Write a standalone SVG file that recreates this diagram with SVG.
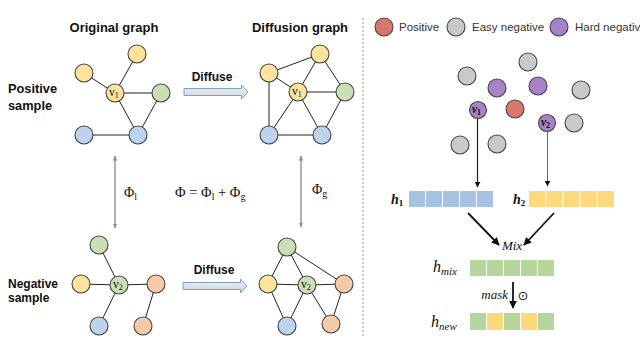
<svg xmlns="http://www.w3.org/2000/svg" width="640" height="351" viewBox="0 0 640 351">
<defs>
<style>
.t{font-family:"Liberation Sans",Arial,sans-serif;font-weight:bold;fill:#111}
.lg{font-family:"Liberation Sans",Arial,sans-serif;font-size:11.5px;fill:#333}
.m{font-family:"Liberation Serif","Times New Roman",serif;fill:#111}
.e{stroke:#222;stroke-width:1;fill:none}
.n{stroke:#444;stroke-width:1.1}
.y{fill:#fde39d}.g{fill:#cadfb6}.b{fill:#bcd3eb}.o{fill:#f6c9a8}
.red{fill:#d9776f}.gr{fill:#c9c9c9}.pu{fill:#a683c7}
.cb{fill:#a6c3e4}.cy{fill:#fbd97c}.cg{fill:#b6d59d}
.da{fill:url(#dg);stroke:#7f9fc0;stroke-width:1}
.va{stroke:#888;stroke-width:1.3;fill:none}
.nl{font-family:"Liberation Serif","Times New Roman",serif;font-size:11.5px;fill:#111}
</style>
<linearGradient id="dg" x1="0" y1="0" x2="0" y2="1">
<stop offset="0" stop-color="#eef1f5"/><stop offset="1" stop-color="#cdd5de"/>
</linearGradient>
<marker id="ah" viewBox="0 0 10 10" refX="9" refY="5" markerWidth="6" markerHeight="6" orient="auto-start-reverse" markerUnits="userSpaceOnUse">
<path d="M0,0L10,5L0,10z" fill="#111"/>
</marker>
<marker id="ahs" viewBox="0 0 10 10" refX="9" refY="5" markerWidth="5" markerHeight="5" orient="auto-start-reverse" markerUnits="userSpaceOnUse">
<path d="M0,1L10,5L0,9z" fill="#888"/>
</marker>
<marker id="ahb" viewBox="0 0 10 10" refX="9" refY="5" markerWidth="8" markerHeight="8" orient="auto" markerUnits="userSpaceOnUse">
<path d="M0,0L10,5L0,10z" fill="#111"/>
</marker>
</defs>
<rect width="640" height="351" fill="#fff"/>

<g id="labels">
<text class="t" x="114" y="32" font-size="13" text-anchor="middle">Original graph</text>
<text class="t" x="300" y="32" font-size="13" text-anchor="middle">Diffusion graph</text>
<text class="t" x="8" y="93" font-size="12.8">Positive</text>
<text class="t" x="8" y="110" font-size="12.8">sample</text>
<text class="t" x="8" y="288" font-size="12">Negative</text>
<text class="t" x="8" y="302" font-size="12">sample</text>
<text class="t" x="212" y="81" font-size="12" text-anchor="middle">Diffuse</text>
<text class="t" x="214" y="274" font-size="12" text-anchor="middle">Diffuse</text>
<text class="m" x="124" y="197" font-size="14">Φ<tspan font-size="10" dy="3">l</tspan></text>
<text class="m" x="175" y="197" font-size="14.5">Φ = Φ<tspan font-size="10" dy="3">l</tspan><tspan dy="-3"> + Φ</tspan><tspan font-size="10" dy="3">g</tspan></text>
<text class="m" x="312" y="194" font-size="14">Φ<tspan font-size="10" dy="3">g</tspan></text>
</g>

<line x1="363" y1="18" x2="363" y2="337" stroke="#999" stroke-width="1" stroke-dasharray="2,2"/>

<g id="connectors">
<path class="da" d="M184,88.5H241.5V85L248,92L241.5,99V95.5H184Z"/>
<path class="da" d="M183,282.5H240.5V279L247,286L240.5,293V289.5H183Z"/>
<line class="va" x1="115" y1="156" x2="115" y2="228" marker-start="url(#ahs)" marker-end="url(#ahs)"/>
<line class="va" x1="301" y1="156" x2="301" y2="227" marker-start="url(#ahs)" marker-end="url(#ahs)"/>
<line class="e" x1="137" y1="54" x2="115" y2="93"/>
<line class="e" x1="84" y1="73" x2="115" y2="93"/>
<line class="e" x1="115" y1="93" x2="161" y2="93"/>
<line class="e" x1="115" y1="93" x2="138" y2="135"/>
<line class="e" x1="161" y1="93" x2="138" y2="135"/>
<line class="e" x1="84" y1="135" x2="138" y2="135"/>
<line class="e" x1="269" y1="73" x2="320" y2="54"/>
<line class="e" x1="269" y1="73" x2="298" y2="92"/>
<line class="e" x1="320" y1="54" x2="298" y2="92"/>
<line class="e" x1="320" y1="54" x2="345" y2="92"/>
<line class="e" x1="298" y1="92" x2="345" y2="92"/>
<line class="e" x1="269" y1="73" x2="269" y2="135"/>
<line class="e" x1="298" y1="92" x2="269" y2="135"/>
<line class="e" x1="298" y1="92" x2="322" y2="135"/>
<line class="e" x1="345" y1="92" x2="322" y2="135"/>
<line class="e" x1="269" y1="135" x2="322" y2="135"/>
<line class="e" x1="99" y1="245" x2="119" y2="285"/>
<line class="e" x1="81" y1="284" x2="119" y2="285"/>
<line class="e" x1="119" y1="285" x2="156" y2="284"/>
<line class="e" x1="119" y1="285" x2="99" y2="326"/>
<line class="e" x1="156" y1="284" x2="143" y2="326"/>
<line class="e" x1="287" y1="247" x2="268" y2="284"/>
<line class="e" x1="287" y1="247" x2="307" y2="285"/>
<line class="e" x1="287" y1="247" x2="344" y2="284"/>
<line class="e" x1="268" y1="284" x2="307" y2="285"/>
<line class="e" x1="307" y1="285" x2="344" y2="284"/>
<line class="e" x1="268" y1="284" x2="287" y2="326"/>
<line class="e" x1="307" y1="285" x2="287" y2="326"/>
<line class="e" x1="307" y1="285" x2="331" y2="324"/>
<line class="e" x1="344" y1="284" x2="331" y2="324"/>
<line x1="477.5" y1="119" x2="477.5" y2="187" stroke="#222" stroke-width="1.2" marker-end="url(#ah)"/>
<line x1="547.5" y1="132" x2="547.5" y2="186" stroke="#555" stroke-width="0.9" marker-end="url(#ah)"/>
<line x1="468" y1="213" x2="499" y2="245" stroke="#111" stroke-width="1.8" marker-end="url(#ahb)"/>
<line x1="554" y1="213" x2="524" y2="245" stroke="#111" stroke-width="1.8" marker-end="url(#ahb)"/>
<line x1="513" y1="282" x2="513" y2="308" stroke="#111" stroke-width="1.8" marker-end="url(#ahb)"/>
</g>

<g id="po-a"><circle class="n y" cx="137" cy="54" r="9"/></g>
<g id="po-b"><circle class="n y" cx="84" cy="73" r="9"/></g>
<g id="po-v1"><circle class="n y" cx="115" cy="93" r="9"/><text class="nl" x="109" y="96">v<tspan font-size="8" dy="2">1</tspan></text></g>
<g id="po-g"><circle class="n g" cx="161" cy="93" r="9"/></g>
<g id="po-c"><circle class="n b" cx="84" cy="135" r="9"/></g>
<g id="po-d"><circle class="n b" cx="138" cy="135" r="9"/></g>

<g id="pd-a"><circle class="n y" cx="320" cy="54" r="9"/></g>
<g id="pd-b"><circle class="n y" cx="269" cy="73" r="9"/></g>
<g id="pd-v1"><circle class="n y" cx="298" cy="92" r="9"/><text class="nl" x="292" y="95">v<tspan font-size="8" dy="2">1</tspan></text></g>
<g id="pd-g"><circle class="n g" cx="345" cy="92" r="9"/></g>
<g id="pd-c"><circle class="n b" cx="269" cy="135" r="9"/></g>
<g id="pd-d"><circle class="n b" cx="322" cy="135" r="9"/></g>

<g id="no-g"><circle class="n g" cx="99" cy="245" r="9"/></g>
<g id="no-y"><circle class="n y" cx="81" cy="284" r="9"/></g>
<g id="no-v2"><circle class="n g" cx="119" cy="285" r="9"/><text class="nl" x="113" y="288">v<tspan font-size="8" dy="2">2</tspan></text></g>
<g id="no-o1"><circle class="n o" cx="156" cy="284" r="9"/></g>
<g id="no-b"><circle class="n b" cx="99" cy="326" r="9"/></g>
<g id="no-o2"><circle class="n o" cx="143" cy="326" r="9"/></g>

<g id="nd-g"><circle class="n g" cx="287" cy="247" r="9"/></g>
<g id="nd-y"><circle class="n y" cx="268" cy="284" r="9"/></g>
<g id="nd-v2"><circle class="n g" cx="307" cy="285" r="9"/><text class="nl" x="301" y="288">v<tspan font-size="8" dy="2">2</tspan></text></g>
<g id="nd-o1"><circle class="n o" cx="344" cy="284" r="9"/></g>
<g id="nd-b"><circle class="n b" cx="287" cy="326" r="9"/></g>
<g id="nd-o2"><circle class="n o" cx="331" cy="324" r="9"/></g>

<g id="legend">
<circle class="n red" cx="384" cy="27" r="9"/>
<text class="lg" x="399" y="31">Positive</text>
<circle class="n gr" cx="456" cy="27" r="9"/>
<text class="lg" x="472" y="31">Easy negative</text>
<circle class="n pu" cx="559" cy="27" r="9"/>
<text class="lg" x="575" y="31">Hard negative</text>
</g>

<g id="scatter">
<circle class="n gr" cx="528" cy="62" r="9"/>
<circle class="n gr" cx="467" cy="76" r="9"/>
<circle class="n pu" cx="497" cy="88" r="9"/>
<circle class="n pu" cx="538" cy="86" r="9"/>
<circle class="n gr" cx="581" cy="90" r="9"/>
<circle class="n red" cx="515" cy="109" r="9"/>
<circle class="n gr" cx="574" cy="123" r="9"/>
<circle class="n gr" cx="460" cy="145" r="9"/>
<circle class="n gr" cx="497" cy="144" r="9"/>
</g>
<g id="s-v1"><circle class="n pu" cx="478" cy="110" r="8.5"/><text class="nl" x="472" y="113" font-style="italic" font-weight="bold">v<tspan font-size="8" dy="2" font-style="normal">1</tspan></text></g>
<g id="s-v2"><circle class="n pu" cx="547" cy="123" r="8.5"/><text class="nl" x="541" y="126" font-style="italic" font-weight="bold">v<tspan font-size="8" dy="2" font-style="normal">2</tspan></text></g>

<g id="h1">
<text class="m" x="391" y="204" font-size="14" font-style="italic" font-weight="bold">h<tspan font-size="9" dy="2" font-style="normal">1</tspan></text>
<rect class="cb" x="409" y="191" width="16" height="16"/>
<rect class="cb" x="426" y="191" width="16" height="16"/>
<rect class="cb" x="443" y="191" width="16" height="16"/>
<rect class="cb" x="460" y="191" width="16" height="16"/>
<rect class="cb" x="477" y="191" width="16" height="16"/>
</g>
<g id="h2">
<text class="m" x="513" y="204" font-size="14" font-style="italic" font-weight="bold">h<tspan font-size="9" dy="2" font-style="normal">2</tspan></text>
<rect class="cy" x="529" y="191" width="16.2" height="16"/>
<rect class="cy" x="546.2" y="191" width="16.2" height="16"/>
<rect class="cy" x="563.4" y="191" width="16.2" height="16"/>
<rect class="cy" x="580.6" y="191" width="16.2" height="16"/>
<rect class="cy" x="597.8" y="191" width="16.2" height="16"/>
</g>
<text id="mix" class="m" x="512" y="250" font-size="13" font-style="italic" text-anchor="middle">Mix</text>
<g id="hmix">
<text class="m" x="433" y="272" font-size="16" font-style="italic">h<tspan font-size="11" dy="3">mix</tspan></text>
<rect class="cg" x="470" y="260" width="16" height="16"/>
<rect class="cg" x="487" y="260" width="16" height="16"/>
<rect class="cg" x="504" y="260" width="16" height="16"/>
<rect class="cg" x="521" y="260" width="16" height="16"/>
<rect class="cg" x="538" y="260" width="16" height="16"/>
</g>
<text id="mask" class="m" x="508" y="299" font-size="13" font-style="italic" text-anchor="end">mask</text>
<text id="odot" x="523" y="300" font-family="DejaVu Sans,sans-serif" font-size="13" text-anchor="middle" fill="#111">⊙</text>
<g id="hnew">
<text class="m" x="431" y="327" font-size="16" font-style="italic">h<tspan font-size="11" dy="3">new</tspan></text>
<rect class="cg" x="470" y="313" width="16" height="17"/>
<rect class="cy" x="487" y="313" width="16" height="17"/>
<rect class="cg" x="504" y="313" width="16" height="17"/>
<rect class="cy" x="521" y="313" width="16" height="17"/>
<rect class="cg" x="538" y="313" width="16" height="17"/>
</g>
</svg>
